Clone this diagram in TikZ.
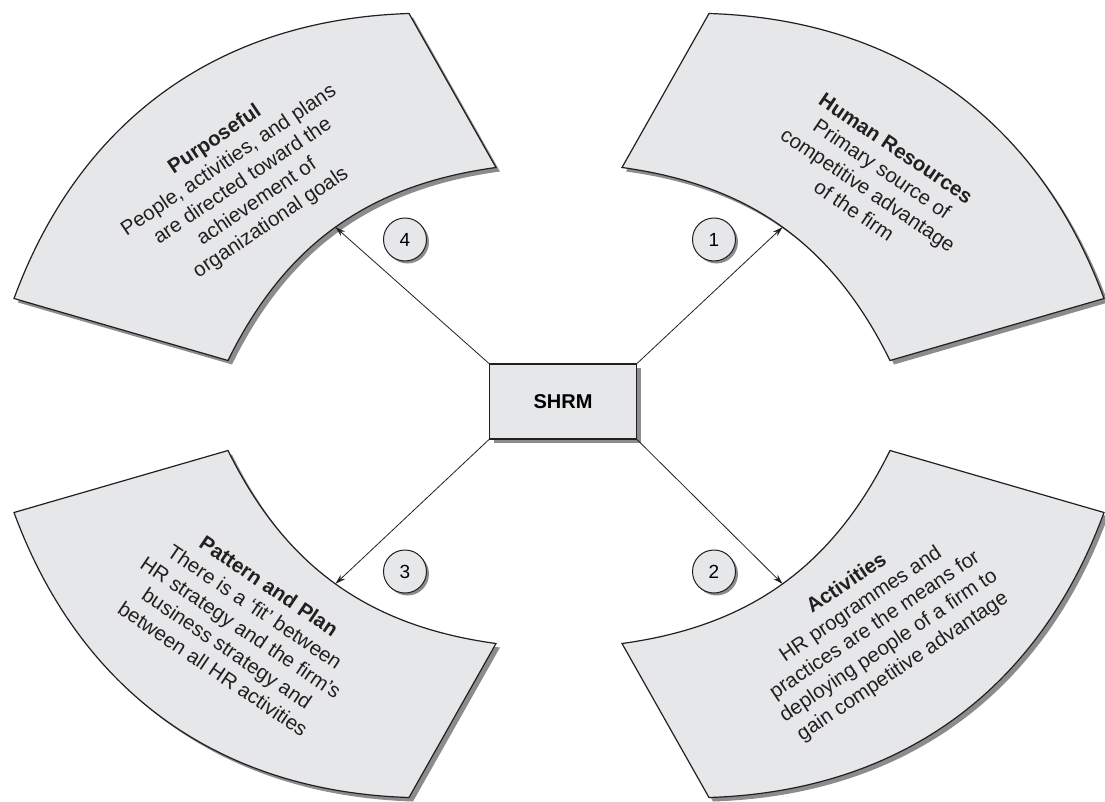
\documentclass[tikz,border=0pt]{standalone}
\usepackage{fontspec}
\setsansfont{Liberation Sans}
\usetikzlibrary{shadows,arrows.meta}
\definecolor{panel}{RGB}{230,231,232}
\definecolor{ink}{RGB}{35,31,32}
\definecolor{shade}{RGB}{140,140,140}

\begin{document}
\begin{tikzpicture}[
		x=1pt, y=1pt,
		sector/.style={
				draw=ink,
				line width=1.2pt,
				fill=panel,
				drop shadow={shadow xshift=4pt, shadow yshift=-4pt, fill=shade, opacity=1}
			},
		blurb/.style={
				align=center,
				text=ink,
				font=\sffamily\fontsize{20.5}{25}\selectfont
			},
		hub/.style={
				draw=ink,
				line width=1.2pt,
				fill=panel,
				minimum width=147pt,
				minimum height=75pt,
				font=\sffamily\bfseries\fontsize{20}{24}\selectfont,
				drop shadow={shadow xshift=4pt, shadow yshift=-4pt, fill=shade, opacity=1}
			},
		num/.style={
				circle,
				draw=ink,
				line width=1pt,
				fill=panel,
				minimum size=43pt,
				inner sep=0pt,
				font=\sffamily\fontsize{19}{22}\selectfont,
				drop shadow={shadow xshift=2.5pt, shadow yshift=-2.5pt, fill=shade, opacity=1}
			},
		link/.style={draw=ink, line width=0.8pt, -{Stealth[length=10pt, width=6pt]}}
	]
	\useasboundingbox (-559,-395.5) rectangle (546,405.5);

	% the four curved panels
	\draw[sector] (-150,392) to[bend right=34] (-545,107) -- (-331,45)
		to[bend left=28] node[coordinate, pos=.5] (purpin) {} (-63,238) -- cycle;
	\draw[sector] (150,392) to[bend left=34] (545,107) -- (331,45)
		to[bend right=28] node[coordinate, pos=.5] (hresin) {} (63,238) -- cycle;
	\draw[sector] (-150,-392) to[bend left=34] (-545,-107) -- (-331,-45)
		to[bend right=28] node[coordinate, pos=.5] (pattin) {} (-63,-238) -- cycle;
	\draw[sector] (150,-392) to[bend right=34] (545,-107) -- (331,-45)
		to[bend left=28] node[coordinate, pos=.5] (actsin) {} (63,-238) -- cycle;

	\node[blurb, rotate=34] (purp) at (-316,224) {\textbf{Purposeful}\\People, activities, and plans\\are directed toward the\\achievement of\\organizational goals};
	\node[blurb, rotate=-34] (hres) at (316,226) {\textbf{Human Resources}\\Primary source of\\competitive advantage\\of the firm};
	\node[blurb, rotate=-34] (patt) at (-318,-222) {\textbf{Pattern and Plan}\\There is a ‘fit’ between\\HR strategy and the firm’s\\business strategy and\\between all HR activities};
	\node[blurb, rotate=34] (acts) at (316,-220) {\textbf{Activities}\\HR programmes and\\practices are the means for\\deploying people of a firm to\\gain competitive advantage};

	% centre box and arrows
	\node[hub] (shrm) at (4,4) {SHRM};
	\draw[link] (shrm.north east) -- (hresin);
	\draw[link] (shrm.south east) -- (actsin);
	\draw[link] (shrm.south west) -- (pattin);
	\draw[link] (shrm.north west) -- (purpin);

	\node[num] (one) at (155,166) {1};
	\node[num] (two) at (155,-166) {2};
	\node[num] (three) at (-154,-166) {3};
	\node[num] (four) at (-154,166) {4};
\end{tikzpicture}
\end{document}
